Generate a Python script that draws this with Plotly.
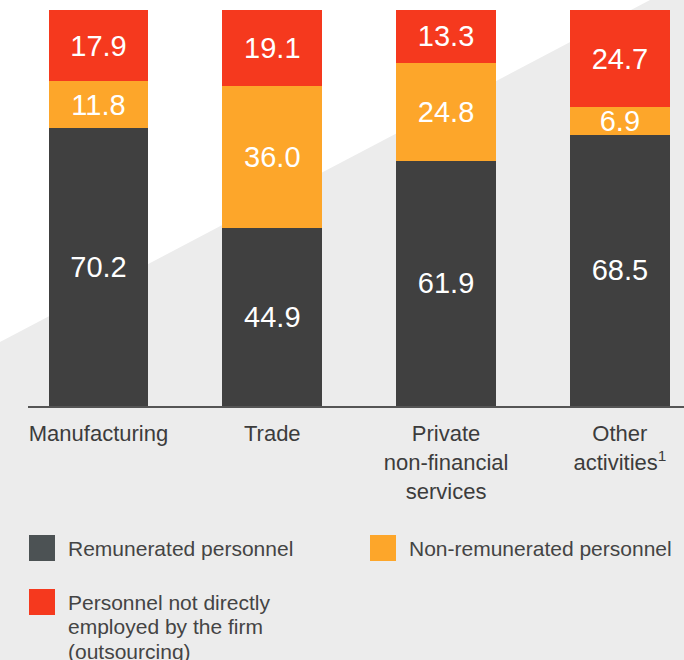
import plotly.graph_objects as go

# ---- data ----
categories = ["Manufacturing", "Trade", "Private<br>non-financial<br>services", "Other<br>activities<sup>1</sup>"]
remunerated = [70.2, 44.9, 61.9, 68.5]
non_remunerated = [11.8, 36.0, 24.8, 6.9]
outsourcing = [17.9, 19.1, 13.3, 24.7]
series_names = ["Remunerated personnel", "Non-remunerated personnel",
                "Personnel not directly<br>employed by the firm<br>(outsourcing)"]

# ---- style ----
W, H = 684, 660
L, R, T, B = 28, 0, 10, 254
PW, PH = W - L - R, H - T - B
C_DARK, C_ORANGE, C_RED = "#404040", "#fda62a", "#f5391e"
C_LEG_DARK = "#4c5254"
FONT = "Liberation Sans, Arial, sans-serif"


def px(xp):
    return (xp - L) / PW


def py(yp):
    return (H - B - yp) / PH


xpos = list(range(len(categories)))
fig = go.Figure()
for vals, col in [(remunerated, C_DARK), (non_remunerated, C_ORANGE), (outsourcing, C_RED)]:
    fig.add_trace(go.Bar(
        x=xpos, y=vals, marker=dict(color=col, line=dict(width=0)),
        width=0.575, text=[f"{v:.1f}" for v in vals], textposition="inside",
        insidetextanchor="middle", constraintext="none",
        textfont=dict(color="white", size=29, family=FONT),
        showlegend=False, hoverinfo="skip"))

shapes = []
# white diagonal background (top-left)
shapes.append(dict(type="path", xref="paper", yref="paper", layer="below",
                   path=f"M {px(0)},{py(0)} L {px(650)},{py(0)} L {px(0)},{py(342)} Z",
                   fillcolor="white", line=dict(width=0)))

annotations = []
legend_items = [
    (series_names[0], C_LEG_DARK, 29, 535),
    (series_names[1], C_ORANGE, 370, 535),
    (series_names[2], C_RED, 29, 589),
]
for name, col, x0, y0 in legend_items:
    shapes.append(dict(type="rect", xref="paper", yref="paper",
                       x0=px(x0), x1=px(x0 + 26), y0=py(y0), y1=py(y0 + 26),
                       fillcolor=col, line=dict(width=0)))
    for i, line in enumerate(name.split("<br>")):
        annotations.append(dict(xref="paper", yref="paper", x=px(x0 + 37),
                                y=py(y0 + 13 + i * 24.5),
                                xanchor="left", yanchor="middle",
                                text=line, showarrow=False, align="left",
                                font=dict(size=21, color="#444444", family=FONT)))

fig.update_layout(
    width=W, height=H, margin=dict(l=L, r=R, t=T, b=B),
    barmode="stack", paper_bgcolor="#ececec", plot_bgcolor="rgba(0,0,0,0)",
    uniformtext=dict(minsize=29, mode="show"),
    shapes=shapes, annotations=annotations,
    font=dict(family=FONT),
    xaxis=dict(range=[-0.4056, 3.369], tickvals=xpos, ticktext=categories,
               showline=True, linecolor="#555555", linewidth=2, showgrid=False,
               zeroline=False, ticks="", ticklabelstandoff=7,
               tickfont=dict(size=22, color="#3c3c3c", family=FONT), fixedrange=True),
    yaxis=dict(range=[0, 100], visible=False, fixedrange=True),
)
fig.write_html("out.html", config={"displayModeBar": False},
               post_script="document.body.style.margin='0';document.body.style.overflow='hidden';")
